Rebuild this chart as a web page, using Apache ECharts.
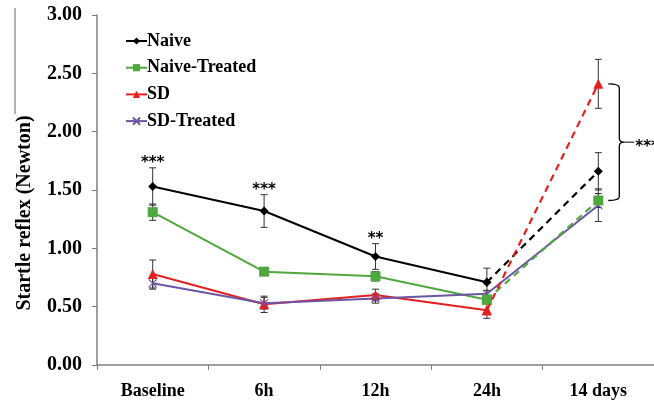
<!DOCTYPE html>
<html><head><meta charset="utf-8">
<script src="https://cdn.jsdelivr.net/npm/echarts@6/dist/echarts.min.js"></script>
<style>html,body{margin:0;padding:0;background:#fff}#c{width:654px;height:403px}</style>
</head><body><div id="c"></div>
<script>
const categories = ['Baseline', '6h', '12h', '24h', '14 days'];
const seriesNames = ['Naive', 'Naive-Treated', 'SD', 'SD-Treated'];
const naive = [1.53, 1.32, 0.93, 0.71, 1.66];
const naiveErr = [0.16, 0.14, 0.11, 0.12, 0.16];
const naiveTreated = [1.31, 0.80, 0.76, 0.56, 1.41];
const naiveTreatedErr = [0.07, 0.03, 0.04, 0.03, 0.06];
const sd = [0.78, 0.52, 0.60, 0.47, 2.41];
const sdErr = [0.12, 0.07, 0.05, 0.07, 0.21];
const sdTreated = [0.70, 0.53, 0.57, 0.61, 1.37];
const sdTreatedErr = [0.05, 0.05, 0.04, 0.03, 0.14];
const sigLabels = ['***', '***', '**', '', ''];
const bracketLabel = '***';
const yTicks = [0, 0.5, 1.0, 1.5, 2.0, 2.5, 3.0];

const colors = ['#000000', '#4fa83d', '#e3201f', '#6b55a5'];
const xPath = 'path://M0,0L10,10M10,0L0,10';
const symbols = ['diamond', 'rect', 'triangle', xPath];
const symSizes = [9, 10, 10, 8];
const dataSets = [naive, naiveTreated, sd, sdTreated];
const errSets = [naiveErr, naiveTreatedErr, sdErr, sdTreatedErr];
const dashed = [true, true, true, false];
const serif = '"Liberation Serif", "Times New Roman", serif';

const series = [];
// error bars
dataSets.forEach((d, s) => {
  series.push({
    type: 'custom', name: 'err' + s, z: 3, silent: true,
    data: d.map((v, i) => [i, v - errSets[s][i], v + errSets[s][i]]),
    renderItem: (params, api) => {
      const lo = api.coord([api.value(0), api.value(1)]);
      const hi = api.coord([api.value(0), api.value(2)]);
      const w = 3.5;
      const st = { stroke: '#333', lineWidth: 1 };
      return { type: 'group', children: [
        { type: 'line', shape: { x1: lo[0], y1: lo[1], x2: hi[0], y2: hi[1] }, style: st },
        { type: 'line', shape: { x1: lo[0] - w, y1: lo[1], x2: lo[0] + w, y2: lo[1] }, style: st },
        { type: 'line', shape: { x1: hi[0] - w, y1: hi[1], x2: hi[0] + w, y2: hi[1] }, style: st }
      ]};
    }
  });
});
dataSets.forEach((d, s) => {
  if (dashed[s]) {
    series.push({
      type: 'line', name: seriesNames[s], z: 5,
      data: d.map((v, i) => i < 4 ? v : '-'),
      symbol: symbols[s], symbolSize: symSizes[s], showAllSymbol: true,
      lineStyle: { color: colors[s], width: 2 },
      itemStyle: { color: colors[s], borderColor: colors[s], borderWidth: 0 }
    });
    series.push({
      type: 'line', name: seriesNames[s] + ' 14d', z: s === 2 ? 7 : 6,
      data: d.map((v, i) => i >= 3 ? v : '-'),
      symbol: symbols[s], symbolSize: symSizes[s], showAllSymbol: true,
      lineStyle: { color: colors[s], width: 2.2, type: [7, 5] },
      itemStyle: { color: colors[s], borderColor: colors[s], borderWidth: 0 }
    });
  } else {
    series.push({
      type: 'line', name: seriesNames[s], z: 5,
      data: d.slice(),
      symbol: symbols[s], symbolSize: symSizes[s], showAllSymbol: true,
      lineStyle: { color: colors[s], width: 2 },
      itemStyle: { color: colors[s], borderColor: colors[s], borderWidth: 1.2 }
    });
  }
});
// significance stars
series.push({
  type: 'custom', name: 'sig', z: 8, silent: true,
  data: naive.map((v, i) => [i, v + naiveErr[i]]),
  renderItem: (params, api) => {
    const p = api.coord([api.value(0), api.value(1)]);
    return { type: 'text', style: { text: sigLabels[params.dataIndex], x: p[0], y: p[1] + 3,
      align: 'center', verticalAlign: 'bottom', fill: '#000', font: 'bold 15px "DejaVu Sans", sans-serif' } };
  }
});
// bracket for 14 days
series.push({
  type: 'custom', name: 'bracket', z: 8, silent: true, clip: false,
  data: [[4, sd[4], naiveTreated[4]]],
  renderItem: (params, api) => {
    const top = api.coord([api.value(0), api.value(1)]);
    const bot = api.coord([api.value(0), api.value(2)]);
    const x0 = top[0] + 10, x1 = top[0] + 21;
    const mid = (top[1] + bot[1]) / 2;
    const r = 4;
    const path = `M${x0},${top[1]} Q${x1},${top[1]} ${x1},${top[1] + r} L${x1},${mid - r} Q${x1},${mid} ${x1 + 5},${mid} Q${x1},${mid} ${x1},${mid + r} L${x1},${bot[1] - r} Q${x1},${bot[1]} ${x0},${bot[1]}`;
    return { type: 'group', children: [
      { type: 'path', shape: { pathData: path }, style: { fill: null, stroke: '#000', lineWidth: 1.3 } },
      { type: 'line', shape: { x1: x1 + 5, y1: mid, x2: x1 + 15, y2: mid }, style: { stroke: '#000', lineWidth: 1 } },
      { type: 'text', style: { text: bracketLabel, x: x1 + 16, y: mid + 5, align: 'left', verticalAlign: 'middle',
        fill: '#000', font: 'bold 15px "DejaVu Sans", sans-serif' } }
    ]};
  }
});

const chart = echarts.init(document.getElementById('c'));
chart.setOption({
  animation: false,
  graphic: [{ type: 'line', shape: { x1: 15, y1: 8, x2: 15, y2: 114 }, style: { stroke: '#666', lineWidth: 1 } }],
  grid: { left: 97, right: 0, top: 15, bottom: 38, containLabel: false },
  legend: {
    data: seriesNames, orient: 'vertical', left: 120, top: 27, itemGap: 8.7,
    itemWidth: 21, itemHeight: 9,
    textStyle: { fontFamily: serif, fontWeight: 'bold', fontSize: 18, color: '#000', padding: [0, 0, 0, -5] }
  },
  xAxis: {
    type: 'category', data: categories, boundaryGap: true,
    axisLine: { lineStyle: { color: '#808080', width: 1.5 } },
    axisTick: { show: true, alignWithLabel: false, length: 5, lineStyle: { color: '#808080' } },
    axisLabel: { fontFamily: serif, fontWeight: 'bold', fontSize: 18, color: '#000', margin: 17 }
  },
  yAxis: {
    type: 'value', min: 0, max: 3, interval: 0.5,
    name: 'Startle reflex (Newton)', nameLocation: 'middle', nameGap: 62, nameRotate: 90,
    nameTextStyle: { fontFamily: serif, fontWeight: 'bold', fontSize: 20, color: '#000', padding: [0, 46, 0, 0] },
    splitLine: { show: false },
    axisLine: { show: true, lineStyle: { color: '#808080', width: 1.5 } },
    axisTick: { show: true, length: 5, lineStyle: { color: '#808080' } },
    axisLabel: { fontFamily: serif, fontWeight: 'bold', fontSize: 20, color: '#000', margin: 15,
      formatter: v => yTicks.includes(v) ? v.toFixed(2) : '' }
  },
  series: series
});
</script></body></html>
